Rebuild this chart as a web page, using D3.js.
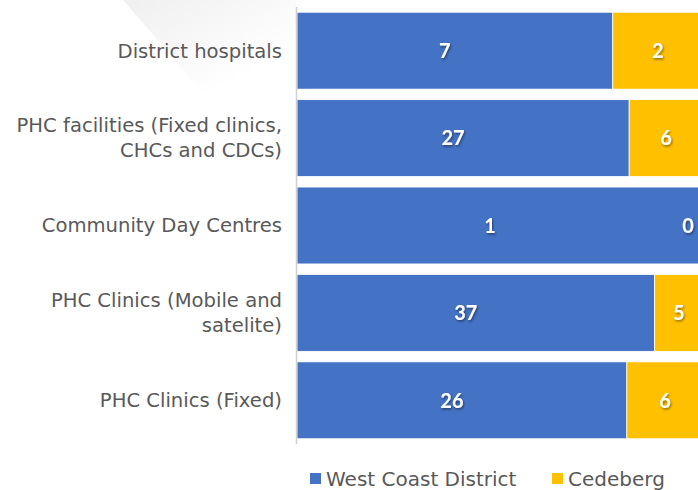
<!DOCTYPE html>
<html>
<head>
<meta charset="utf-8">
<script src="https://cdn.jsdelivr.net/npm/d3@7"></script>
<style>
  body { margin: 0; background: #fff; }
  svg { display: block; font-family: "DejaVu Sans", sans-serif; }
</style>
</head>
<body>
<div id="chart"></div>
<script>
const width = 698;
const height = 490;

// categories, top to bottom ("|" = line break in the label)
const categories = [
  "District hospitals",
  "PHC facilities (Fixed clinics,|CHCs and CDCs)",
  "Community Day Centres",
  "PHC Clinics (Mobile and|satelite)",
  "PHC Clinics (Fixed)"
];
const westCoast = [7, 27, 1, 37, 26];
const cedeberg = [2, 6, 0, 5, 6];
const seriesNames = ["West Coast District", "Cedeberg"];
const colors = ["#4472C4", "#FFC000"];

const svg = d3.select("#chart").append("svg")
  .attr("width", width)
  .attr("height", height);

const defs = svg.append("defs");
const grad = defs.append("linearGradient")
  .attr("id", "deco").attr("x1", "0").attr("y1", "0").attr("x2", "1").attr("y2", "1");
grad.append("stop").attr("offset", "0").attr("stop-color", "#efefef");
grad.append("stop").attr("offset", "0.75").attr("stop-color", "#ffffff");

const shadow = defs.append("filter").attr("id", "shadow")
  .attr("x", "-50%").attr("y", "-50%").attr("width", "200%").attr("height", "200%");
shadow.append("feDropShadow")
  .attr("dx", 1).attr("dy", 1.5).attr("stdDeviation", 1)
  .attr("flood-color", "#000").attr("flood-opacity", 0.45);

// faint decorative shape from the slide background
svg.append("path")
  .attr("d", "M123,0 L296,0 L296,95 L205,95 Z")
  .attr("fill", "url(#deco)");

const rows = categories.map((c, i) => {
  const total = westCoast[i] + cedeberg[i];
  return { cat: c, vals: [westCoast[i], cedeberg[i]], total };
});

const x = d3.scaleLinear().domain([0, 1]).range([297, 703]);
const y = d3.scaleBand()
  .domain(categories)
  .range([7, 444])
  .paddingInner(0.12)
  .paddingOuter(0.06);

const stack = d3.stack().keys([0, 1])
  .value((d, k) => d.vals[k] / d.total);
const layers = stack(rows);

const g = svg.append("g");

layers.forEach((layer, k) => {
  g.append("g").selectAll("rect")
    .data(layer)
    .join("rect")
      .attr("x", d => x(d[0]))
      .attr("y", d => y(d.data.cat))
      .attr("width", d => x(d[1]) - x(d[0]))
      .attr("height", y.bandwidth())
      .attr("fill", colors[k])
      .attr("stroke", "#ffffff")
      .attr("stroke-width", 0.8);
});

// axis line
g.append("line")
  .attr("x1", 296.5).attr("x2", 296.5)
  .attr("y1", 7).attr("y2", 444)
  .attr("stroke", "#d0d0d0").attr("stroke-width", 1.5);

// value labels
layers.forEach((layer, k) => {
  g.append("g").selectAll("text")
    .data(layer)
    .join("text")
      .attr("x", d => {
        const cx = (x(d[0]) + x(d[1])) / 2 + (k === 0 ? -10 : 0);
        return Math.min(cx, 688);
      })
      .attr("y", d => y(d.data.cat) + y.bandwidth() / 2)
      .attr("dy", "0.36em")
      .attr("text-anchor", "middle")
      .attr("fill", "#fff")
      .attr("font-size", 20)
      .attr("font-weight", "bold")
      .attr("font-family", "Lato, 'Open Sans', sans-serif")
      .attr("filter", "url(#shadow)")
      .text(d => d.data.vals[k]);
});

// category labels
const catLabels = g.append("g").selectAll("text")
  .data(categories)
  .join("text")
    .attr("text-anchor", "end")
    .attr("fill", "#595959")
    .attr("font-size", 19.6)
    .attr("x", 282)
    .attr("y", d => y(d) + y.bandwidth() / 2);

catLabels.each(function(d) {
  const lines = d.split("|");
  const lh = 25;
  const t = d3.select(this);
  lines.forEach((ln, i) => {
    t.append("tspan")
      .attr("x", 282)
      .attr("y", y(d) + y.bandwidth() / 2 + (i - (lines.length - 1) / 2) * lh)
      .attr("dy", "0.35em")
      .text(ln);
  });
});

// legend
const legendX = [310, 552];
const legend = svg.append("g").selectAll("g")
  .data(seriesNames)
  .join("g")
    .attr("transform", (d, i) => `translate(${legendX[i]},473)`);
legend.append("rect")
  .attr("width", 11).attr("height", 11)
  .attr("fill", (d, i) => colors[i]);
legend.append("text")
  .attr("x", 16).attr("y", 5.5).attr("dy", "0.36em")
  .attr("fill", "#595959")
  .attr("font-size", 20)
  .text(d => d);
</script>
</body>
</html>
